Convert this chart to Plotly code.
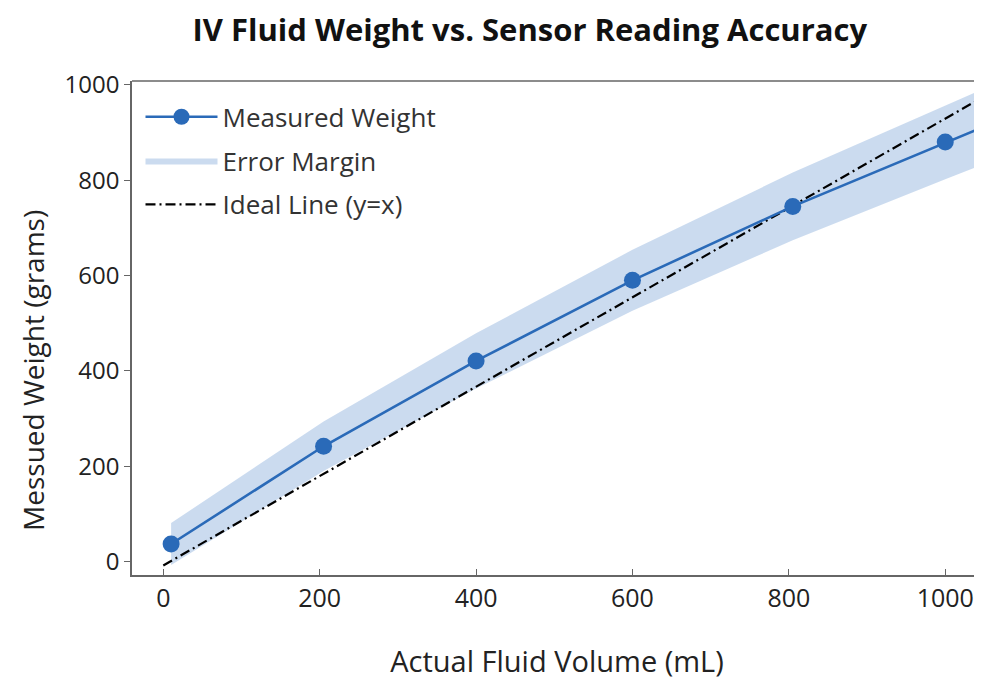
import plotly.graph_objects as go

# Data
volume_ml = [10, 205, 400, 600, 805, 1000, 1200]
measured_g = [37, 242, 421, 590, 745, 880, 1015]
error_margin = [44, 52, 58, 64, 71, 78, 85]
ideal_x = [0, 1050]
ideal_y = [-8, 976]

x_ticks = [0, 200, 400, 600, 800, 1000]
y_ticks = [0, 200, 400, 600, 800, 1000]

upper = [m + e for m, e in zip(measured_g, error_margin)]
lower = [m - e for m, e in zip(measured_g, error_margin)]

FONT = "Open Sans"
fig = go.Figure()

fig.add_trace(go.Scatter(
    x=volume_ml + volume_ml[::-1], y=upper + lower[::-1],
    fill="toself", mode="lines", line=dict(width=0),
    fillcolor="rgba(160,190,225,0.55)", name="Error Margin",
    legendgroup="b", legendrank=2, hoverinfo="skip",
))
fig.add_trace(go.Scatter(
    x=ideal_x, y=ideal_y, mode="lines", name="Ideal Line (y=x)",
    line=dict(color="black", width=2.2, dash="10px,4px,2px,4px"),
    legendgroup="c", legendrank=3,
))
fig.add_trace(go.Scatter(
    x=volume_ml, y=measured_g, mode="lines+markers", name="Measured Weight",
    line=dict(color="#2a6ab8", width=2.6),
    marker=dict(size=17, color="#2a6ab8"),
    legendgroup="a", legendrank=1,
))

fig.update_layout(
    width=974, height=672,
    margin=dict(l=124, r=0, t=73, b=105),
    paper_bgcolor="white", plot_bgcolor="white",
    font=dict(family=FONT, color="#222", size=24),
    title=dict(text="<b>IV Fluid Weight vs. Sensor Reading Accuracy</b>",
               x=0.468, xref="paper", xanchor="center", y=0.967, yanchor="middle",
               font=dict(size=31, color="#111")),
    showlegend=True,
    legend=dict(x=0.01, y=0.975, xanchor="left", yanchor="top",
                bgcolor="rgba(255,255,255,0)", font=dict(size=26, color="#333"),
                tracegroupgap=7, itemwidth=72, traceorder="grouped"),
    xaxis=dict(range=[-40, 1047], tickvals=x_ticks, ticks="inside", ticklen=6,
               tickcolor="#666", showline=True, linecolor="#666", linewidth=1.5,
               mirror=False, showgrid=False, zeroline=False,
               title=dict(text="Actual Fluid Volume (mL)", standoff=40,
                          font=dict(size=29)),
               tickfont=dict(size=25)),
    yaxis=dict(range=[-28, 1008], tickvals=y_ticks, ticks="outside", ticklen=6,
               tickcolor="#666", showline=True, linecolor="#666", linewidth=1.5,
               showgrid=False, zeroline=False, tickfont=dict(size=24)),
    annotations=[dict(text="Messued Weight (grams)", xref="paper", yref="paper",
                      x=-0.1165, y=0.415, xanchor="center", yanchor="middle",
                      textangle=-90, showarrow=False,
                      font=dict(size=28, color="#222"))],
)
# top border line
fig.add_shape(type="line", xref="paper", yref="paper", x0=0, x1=1, y0=1, y1=1,
              line=dict(color="#666", width=1.5))

fig.write_html("out.html")
